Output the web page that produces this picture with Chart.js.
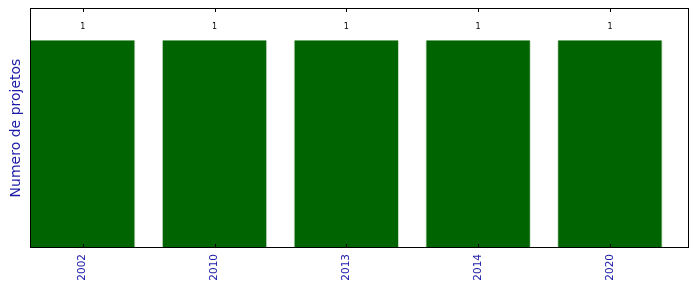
<!DOCTYPE html>
<html>
<head>
<meta charset="utf-8">
<script src="https://cdn.jsdelivr.net/npm/chart.js@4/dist/chart.umd.min.js"></script>
<style>
  html, body { margin: 0; padding: 0; background: #fff; }
  #wrap { width: 699px; height: 292px; }
</style>
</head>
<body>
<div id="wrap"><canvas id="chart" width="699" height="292"></canvas></div>
<script>
const years = ['2002', '2010', '2013', '2014', '2020'];
const projectCounts = [1, 1, 1, 1, 1];
const yMax = 1.155;

const barGreen = '#006400';
const labelBlue = '#1a1aa6';

// axes frame, inward ticks, value labels and y title
const decorPlugin = {
    id: 'decor',
    afterDraw(chart) {
        const ctx = chart.ctx;
        const area = chart.chartArea;
        const xs = chart.scales.x;
        const ys = chart.scales.y;
        ctx.save();
        ctx.strokeStyle = '#000';
        ctx.lineWidth = 1;
        ctx.strokeRect(area.left + 0.5, area.top + 0.5, area.right - area.left - 1, area.bottom - area.top - 1);

        ctx.beginPath();
        years.forEach((y, i) => {
            const px = Math.round(xs.getPixelForValue(i)) + 0.5;
            ctx.moveTo(px, area.bottom);
            ctx.lineTo(px, area.bottom - 4);
            ctx.moveTo(px, area.top);
            ctx.lineTo(px, area.top + 4);
        });
        ctx.stroke();

        ctx.fillStyle = '#000';
        ctx.font = '8px "DejaVu Sans"';
        ctx.textAlign = 'center';
        ctx.textBaseline = 'middle';
        projectCounts.forEach((v, i) => {
            ctx.fillText(String(v), xs.getPixelForValue(i), ys.getPixelForValue(v) - 13);
        });

        ctx.fillStyle = labelBlue;
        ctx.font = '14px "DejaVu Sans"';
        ctx.translate(16, (area.top + area.bottom) / 2);
        ctx.rotate(-Math.PI / 2);
        ctx.fillText('Numero de projetos', 0, 0);
        ctx.restore();
    }
};

new Chart(document.getElementById('chart'), {
    type: 'bar',
    data: {
        datasets: [{
            data: projectCounts.map((v, i) => ({ x: i, y: v })),
            backgroundColor: barGreen,
            borderColor: '#cfe0cf',
            borderWidth: { left: 1, right: 1, top: 0, bottom: 0 },
            borderSkipped: false,
            barPercentage: 1,
            categoryPercentage: 0.8
        }]
    },
    options: {
        responsive: false,
        animation: false,
        events: [],
        layout: { padding: { top: 8, right: 10, left: 0, bottom: 0 } },
        plugins: {
            legend: { display: false },
            tooltip: { enabled: false }
        },
        scales: {
            x: {
                type: 'linear',
                min: -0.4,
                max: 4.6,
                offset: false,
                border: { display: false },
                grid: { display: false, drawTicks: false, tickLength: 0 },
                afterBuildTicks(scale) {
                    scale.ticks = years.map((y, i) => ({ value: i }));
                },
                afterFit(scale) { scale.height = 44; },
                ticks: {
                    autoSkip: false,
                    minRotation: 90,
                    maxRotation: 90,
                    padding: 6,
                    color: labelBlue,
                    font: { family: 'DejaVu Sans', size: 10.5 },
                    callback: (value) => years[value]
                }
            },
            y: {
                min: 0,
                max: yMax,
                border: { display: false },
                grid: { display: false },
                ticks: { display: false },
                afterFit(scale) { scale.width = 30; }
            }
        }
    },
    plugins: [decorPlugin]
});
</script>
</body>
</html>
